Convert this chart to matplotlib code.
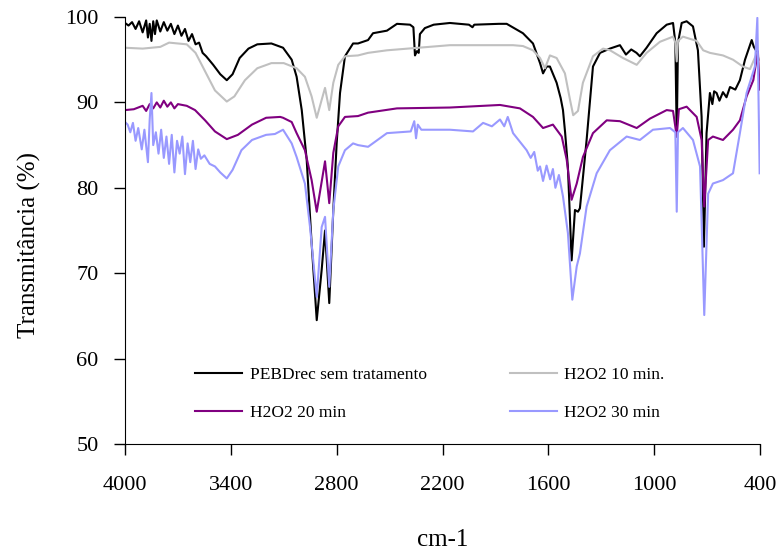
import numpy as np
import matplotlib
matplotlib.use('Agg')
import matplotlib.pyplot as plt

plt.rcParams['font.family'] = ['Liberation Serif', 'DejaVu Serif']

# PEBDrec sem tratamento
wn_black = [4000, 3980, 3960, 3940, 3920, 3900, 3880, 3870, 3860, 3850, 3840, 3830, 3820, 3800,
            3780, 3760, 3740, 3720, 3700, 3680, 3660, 3640, 3620, 3600, 3580, 3560, 3540, 3500,
            3460, 3423, 3390, 3350, 3300, 3250, 3170, 3104, 3055, 3027, 2998, 2970, 2942, 2913,
            2885, 2866, 2842, 2819, 2800, 2781, 2753, 2707, 2679, 2622, 2594, 2515, 2458, 2384,
            2365, 2356, 2345, 2335, 2328, 2300, 2250, 2158, 2050, 2030, 2020, 1880, 1836, 1744,
            1687, 1647, 1630, 1610, 1591, 1553, 1530, 1517, 1505, 1489, 1468, 1449, 1432, 1421,
            1383, 1347, 1307, 1251, 1194, 1160, 1130, 1100, 1081, 1043, 986, 929, 893, 880, 872,
            865, 844, 816, 780, 752, 731, 718, 703, 684, 670, 660, 646, 630, 610, 590, 570, 540,
            514, 485, 447, 435, 420]
t_black = [99.3, 99.0, 99.4, 98.6, 99.5, 98.2, 99.6, 97.6, 99.2, 97.2, 99.5, 98.0, 99.6, 98.3,
           99.4, 98.4, 99.2, 98.0, 99.0, 97.8, 98.6, 97.2, 98.0, 96.8, 97.0, 95.8, 95.4, 94.4,
           93.3, 92.6, 93.3, 95.2, 96.3, 96.8, 96.9, 96.4, 95.0, 93.0, 89.1, 83.3, 73.5, 64.5,
           70.4, 75.0, 66.5, 77.4, 85.2, 91.1, 95.4, 96.9, 96.9, 97.3, 98.1, 98.4, 99.2, 99.1,
           98.8, 95.5, 96.0, 95.8, 98.0, 98.7, 99.1, 99.3, 99.1, 98.8, 99.1, 99.2, 99.2, 98.1,
           96.9, 94.6, 93.4, 94.2, 94.2, 92.3, 90.5, 89.1, 86.5, 82.4, 71.5, 77.4, 77.2, 77.6,
           85.6, 94.2, 95.8, 96.3, 96.7, 95.6, 96.2, 95.8, 95.4, 96.4, 98.1, 99.1, 99.3, 97.0, 86.0,
           97.0, 99.3, 99.5, 98.9, 96.1, 88.3, 73.1, 86.4, 91.1, 89.8, 91.3, 91.1, 90.2, 91.2, 90.6,
           91.8, 91.5, 92.6, 95.0, 97.3, 96.5, 96.0]

# H2O2 10 min.
wn_gray = [4000, 3900, 3800, 3750, 3700, 3650, 3600, 3550, 3490, 3423, 3380, 3320, 3250, 3170,
           3100, 3027, 2980, 2942, 2913, 2885, 2866, 2842, 2819, 2791, 2753, 2679, 2622, 2515,
           2158, 1800, 1744, 1687, 1647, 1619, 1591, 1553, 1506, 1477, 1459, 1432, 1404, 1347,
           1290, 1250, 1177, 1099, 1043, 967, 893, 880, 872, 865, 837, 759, 722, 684, 610, 553,
           497, 457, 419, 405]
t_gray = [96.4, 96.3, 96.5, 97.0, 96.9, 96.8, 95.8, 93.8, 91.4, 90.1, 90.7, 92.6, 94.0, 94.6,
          94.6, 94.0, 93.0, 90.7, 88.2, 90.3, 91.7, 89.1, 92.3, 94.4, 95.4, 95.5, 95.8, 96.1,
          96.7, 96.7, 96.6, 96.1, 95.2, 94.0, 95.5, 95.2, 93.4, 90.3, 88.5, 89.0, 92.3, 95.4,
          96.3, 96.1, 95.2, 94.4, 95.8, 97.1, 97.7, 97.0, 94.8, 97.2, 97.7, 97.2, 96.1, 95.8,
          95.5, 95.0, 94.2, 93.9, 95.7, 95.0]

# H2O2 20 min
wn_purple = [4000, 3950, 3900, 3880, 3860, 3840, 3820, 3800, 3780, 3760, 3740, 3720, 3700, 3650,
             3603, 3546, 3490, 3423, 3360, 3280, 3200, 3120, 3104, 3055, 3027, 2980, 2942, 2913,
             2866, 2842, 2819, 2791, 2753, 2679, 2622, 2458, 2158, 1874, 1761, 1687, 1630, 1574,
             1524, 1496, 1468, 1439, 1404, 1347, 1269, 1194, 1099, 1024, 929, 893, 872, 860, 816,
             759, 731, 716, 694, 667, 610, 553, 514, 476, 438, 412, 402]
t_purple = [89.1, 89.2, 89.6, 89.0, 89.8, 89.3, 90.0, 89.4, 90.2, 89.5, 90.0, 89.3, 89.8, 89.6,
            89.1, 87.9, 86.6, 85.7, 86.2, 87.4, 88.2, 88.3, 88.2, 87.7, 86.4, 84.4, 80.9, 77.2,
            83.1, 78.2, 84.1, 87.2, 88.3, 88.4, 88.8, 89.3, 89.4, 89.7, 89.3, 88.3, 87.0, 87.4,
            86.0, 83.3, 78.6, 80.5, 83.6, 86.4, 87.9, 87.8, 87.0, 88.1, 89.1, 89.0, 86.0, 89.2,
            89.5, 88.3, 85.6, 77.8, 85.6, 86.0, 85.6, 86.8, 87.9, 90.7, 92.6, 96.0, 91.5]

# H2O2 30 min
wn_blue = [4000, 3985, 3970, 3955, 3940, 3925, 3905, 3890, 3870, 3860, 3850, 3840, 3825, 3810,
           3795, 3780, 3765, 3750, 3735, 3720, 3705, 3690, 3675, 3660, 3645, 3630, 3615, 3600,
           3585, 3570, 3550, 3520, 3490, 3460, 3423, 3390, 3340, 3280, 3200, 3150, 3104, 3055,
           3027, 2980, 2951, 2913, 2885, 2866, 2842, 2819, 2791, 2753, 2707, 2679, 2622, 2515,
           2380, 2360, 2350, 2340, 2320, 2158, 2027, 1970, 1920, 1874, 1850, 1830, 1800, 1723,
           1700, 1680, 1660, 1647, 1630, 1610, 1590, 1574, 1560, 1540, 1517, 1489, 1464, 1439,
           1421, 1383, 1326, 1251, 1156, 1081, 1007, 910, 880, 872, 865, 837, 780, 740, 716, 694,
           667, 610, 553, 514, 476, 429, 415, 408, 402]
t_blue = [87.7, 87.4, 86.5, 87.6, 85.5, 87.0, 84.5, 86.8, 83.0, 88.0, 91.1, 85.0, 86.5, 84.0,
          86.8, 83.5, 86.0, 82.8, 86.2, 81.8, 85.5, 84.0, 86.0, 81.6, 85.2, 83.0, 85.5, 82.2,
          84.5, 83.4, 83.8, 82.8, 82.5, 81.8, 81.1, 82.1, 84.4, 85.6, 86.2, 86.3, 86.8, 85.2,
          83.6, 80.5, 75.4, 67.2, 75.4, 76.6, 68.4, 77.4, 82.5, 84.4, 85.2, 85.0, 84.8, 86.4,
          86.6, 87.8, 85.8, 87.4, 86.8, 86.8, 86.6, 87.6, 87.2, 88.0, 87.2, 88.3, 86.4, 84.4,
          83.5, 84.2, 82.0, 82.5, 80.8, 82.6, 81.0, 82.2, 80.0, 81.5, 79.0, 74.7, 66.9, 70.8,
          72.3, 77.8, 81.7, 84.4, 86.0, 85.6, 86.8, 87.0, 86.5, 77.2, 86.5, 87.0, 85.6, 82.5,
          65.1, 79.3, 80.5, 80.9, 81.7, 86.4, 91.1, 94.2, 99.9, 90.0, 81.7]

x_ticks = [4000, 3400, 2800, 2200, 1600, 1000, 400]
y_ticks = [50, 60, 70, 80, 90, 100]

fig = plt.figure(figsize=(7.84, 5.53), dpi=100)
ax = fig.add_axes([125 / 784, 1 - 444 / 553, 635 / 784, 427 / 553])

l1, = ax.plot(wn_black, t_black, color='black', lw=1.5, label='PEBDrec sem tratamento')
l2, = ax.plot(wn_gray, t_gray, color='#c0c0c0', lw=1.5, label='H2O2 10 min.')
l3, = ax.plot(wn_purple, t_purple, color='#800080', lw=1.5, label='H2O2 20 min')
l4, = ax.plot(wn_blue, t_blue, color='#9999ff', lw=1.5, label='H2O2 30 min')

ax.set_xlim(4000, 400)
ax.set_ylim(50, 100)
ax.set_xticks(x_ticks)
ax.set_yticks(y_ticks)
for s in ['top', 'right']:
    ax.spines[s].set_visible(False)
ax.tick_params(direction='out', length=8, width=1, labelsize=16)
ax.tick_params(axis='x', pad=15)
ax.tick_params(axis='y', pad=11)
ax.set_xlabel('cm-1', fontsize=18)
ax.set_ylabel('Transmitância (%)', fontsize=18)
ax.xaxis.set_label_coords(0.5, -0.2)
ax.yaxis.set_label_coords(-0.133, 0.465)

leg_kw = dict(loc='upper left', frameon=False, fontsize=12.5, handlelength=2.7,
              handletextpad=0.45, labelspacing=1.25, borderpad=0, borderaxespad=0)
leg_a = ax.legend(handles=[l1, l3], bbox_to_anchor=(0.11, 0.181), **leg_kw)
ax.add_artist(leg_a)
ax.legend(handles=[l2, l4], bbox_to_anchor=(0.606, 0.181), **leg_kw)

fig.savefig('out.png', dpi=100)
